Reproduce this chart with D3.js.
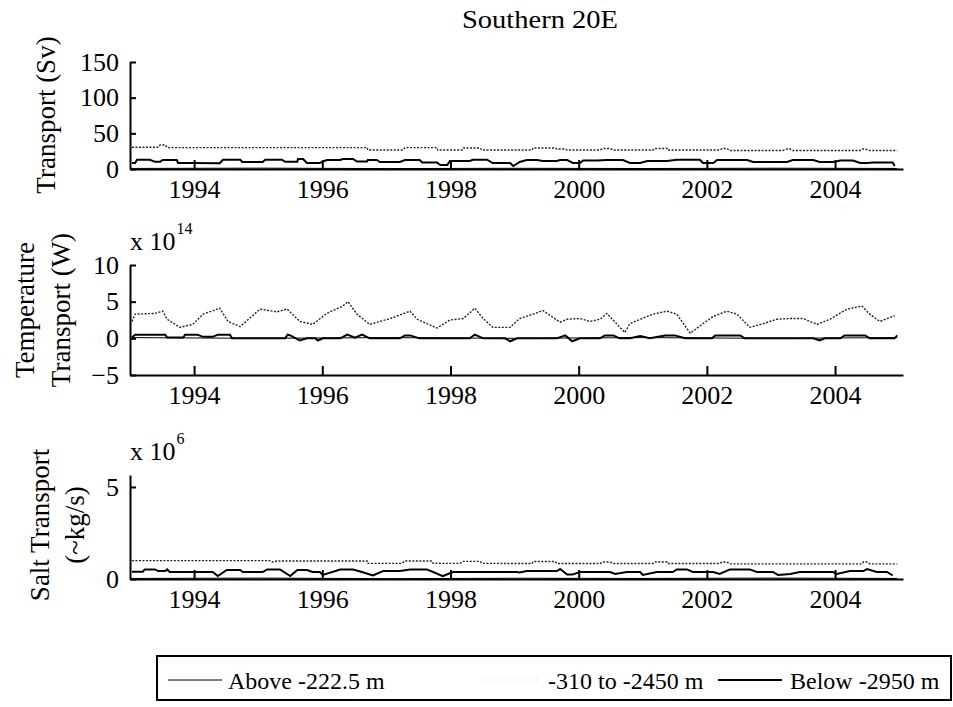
<!DOCTYPE html>
<html><head><meta charset="utf-8">
<script src="https://cdn.jsdelivr.net/npm/d3@7"></script>
<style>
body{margin:0;background:#fff;}
svg text{font-family:"Liberation Serif","Times New Roman",serif;fill:#000;}
</style></head><body>
<svg id="chart" width="953" height="707"></svg>
<script>
// ---------- data ----------
const title = "Southern 20E";
const xTicks = [1994, 1996, 1998, 2000, 2002, 2004];
const seriesNames = ["Above -222.5 m", "-310 to -2450 m", "Below -2950 m"];

// Panel 1: volume transport (Sv)
const volTicks = [0, 50, 100, 150];
const volAbove = [[1993.03,0.8],[1995.0,1.2],[1997.0,0.6],[1999.0,1.0],[2001.0,0.7],[2003.0,1.1],[2004.97,0.8]];
const volMid = [[1993.03,30.4],[1993.44,30.4],[1993.47,33.6],[1993.55,33.6],[1993.58,30],[1996.70,30],[1996.71,26.6],[1997.26,26.6],[1997.29,30],[1997.79,30],[1997.80,26.6],[1998.18,26.6],[1998.20,29.5],[1998.46,29.5],[1998.49,26.6],[1999.27,26.6],[1999.29,29.5],[1999.63,29.5],[1999.66,28],[1999.79,28],[1999.82,26.6],[2000.33,26.6],[2000.38,28.8],[2000.49,28.8],[2000.54,26.6],[2001.16,26.6],[2001.19,28.8],[2001.38,28.8],[2001.39,26.6],[2002.20,26.6],[2002.24,28.8],[2002.31,28.8],[2002.36,26],[2003.19,26],[2003.25,28],[2003.30,28],[2003.34,26],[2004.39,26],[2004.42,28],[2004.47,28],[2004.54,26],[2004.97,26]];
const volBelow = [[1993.03,8.4],[1993.08,8.4],[1993.11,13],[1993.31,13],[1993.39,10],[1993.47,10],[1993.51,12.6],[1993.73,12.6],[1993.75,8.4],[1993.98,8.4],[1994.40,8],[1994.45,13],[1994.72,13],[1994.75,9.8],[1995.07,9.8],[1995.11,13],[1995.37,13],[1995.42,10],[1995.61,10],[1995.62,14],[1995.70,14],[1995.76,8.4],[1995.96,8.4],[1996.07,12.6],[1996.28,12.6],[1996.32,14],[1996.48,14],[1996.54,10.5],[1996.70,10.5],[1996.71,12.6],[1996.85,12.6],[1996.90,9.8],[1997.21,9.8],[1997.29,12.6],[1997.52,12.6],[1997.56,9.1],[1997.79,9.1],[1997.84,5.6],[1997.95,5.6],[1997.99,11.2],[1998.30,11.2],[1998.35,13],[1998.57,13],[1998.66,8.4],[1998.93,8.4],[1998.98,4.2],[1999.08,9.8],[1999.19,12.6],[1999.35,12.6],[1999.44,11.2],[1999.66,11.2],[1999.71,12.6],[1999.82,12.6],[1999.91,8.4],[2000.02,8.4],[2000.07,12],[2000.29,12],[2000.44,12.6],[2000.69,12.6],[2000.80,8.4],[2000.96,8.4],[2001.07,11.2],[2001.38,11.2],[2001.53,13],[2001.89,13],[2001.94,8.4],[2002.10,8.4],[2002.16,12.6],[2002.63,12.6],[2002.72,9.8],[2003.25,9.8],[2003.34,12.6],[2003.66,12.6],[2003.76,9.8],[2003.97,9.8],[2004.08,12],[2004.28,12],[2004.39,8.4],[2004.50,8.4],[2004.59,9.1],[2004.90,9.1],[2004.93,4.2]];

// Panel 2: temperature transport (x 10^14 W)
const tempTicks = [-5, 0, 5, 10];
const tempAbove = [[1993.03,0.1],[1995.0,0.0],[1997.0,0.1],[1999.0,0.0],[2001.0,0.1],[2003.0,0.0],[2004.97,0.1]];
const tempMid = [[1993.03,2.3],[1993.08,3.3],[1993.39,3.4],[1993.51,3.7],[1993.58,2.6],[1993.78,1.5],[1993.98,1.9],[1994.14,3.3],[1994.40,4.1],[1994.53,2.3],[1994.72,1.6],[1995.03,4.0],[1995.29,3.6],[1995.45,4.0],[1995.65,2.3],[1995.85,1.9],[1996.07,3.4],[1996.32,4.4],[1996.40,5.0],[1996.54,3.3],[1996.74,1.9],[1997.06,2.7],[1997.37,3.7],[1997.48,2.6],[1997.79,1.4],[1997.99,2.5],[1998.20,2.7],[1998.38,4.1],[1998.51,2.7],[1998.66,1.5],[1998.93,1.5],[1999.08,2.7],[1999.29,3.3],[1999.44,3.8],[1999.71,2.2],[1999.82,2.6],[2000.02,2.7],[2000.18,2.3],[2000.33,2.6],[2000.44,3.4],[2000.72,0.8],[2000.80,2.0],[2000.96,2.6],[2001.16,3.3],[2001.38,3.7],[2001.53,3.3],[2001.74,0.7],[2001.94,2.0],[2002.10,3.0],[2002.31,3.7],[2002.47,3.3],[2002.67,1.5],[2002.88,2.0],[2003.09,2.6],[2003.30,2.7],[2003.50,2.7],[2003.72,1.9],[2003.92,2.6],[2004.19,4.0],[2004.42,4.4],[2004.54,3.3],[2004.70,2.3],[2004.93,3.1]];
const tempBelow = [[1993.03,0.1],[1993.08,0.5],[1993.55,0.5],[1993.58,0.1],[1993.83,0.1],[1993.86,0.5],[1994.05,0.5],[1994.14,0.2],[1994.29,0.2],[1994.37,0.5],[1994.56,0.5],[1994.59,0.0],[1995.42,0.0],[1995.46,0.5],[1995.50,0.4],[1995.65,-0.3],[1995.76,0.0],[1995.89,0.0],[1995.93,-0.3],[1996.01,0.0],[1996.28,0.0],[1996.39,0.5],[1996.51,0.1],[1996.62,0.5],[1996.74,0.0],[1997.21,0.0],[1997.29,0.4],[1997.37,0.4],[1997.52,0.0],[1998.30,0.0],[1998.38,0.5],[1998.51,0.0],[1998.85,0.0],[1998.93,-0.4],[1999.04,0.0],[1999.66,0.0],[1999.79,0.4],[1999.90,-0.4],[2000.02,0.0],[2000.33,0.0],[2000.41,0.4],[2000.54,0.4],[2000.64,0.0],[2000.80,0.0],[2000.96,0.3],[2001.11,0.0],[2001.35,0.4],[2001.50,0.4],[2001.66,0.0],[2002.08,0.0],[2002.13,0.4],[2002.52,0.4],[2002.59,0.0],[2003.66,0.0],[2003.76,-0.3],[2003.84,0.0],[2004.08,0.0],[2004.15,0.4],[2004.47,0.4],[2004.54,0.0],[2004.93,0.0],[2004.97,0.4]];

// Panel 3: salt transport (x 10^6 ~kg/s)
const saltTicks = [0, 5];
const saltAbove = [[1993.03,0.03],[1995.0,0.05],[1997.0,0.02],[1999.0,0.04],[2001.0,0.03],[2003.0,0.05],[2004.97,0.03]];
const saltMid = [[1993.03,1.0],[1995.18,1.0],[1995.23,0.92],[1995.29,0.98],[1996.70,0.98],[1996.71,0.85],[1997.24,0.85],[1997.29,0.98],[1997.71,0.98],[1997.73,0.85],[1998.15,0.85],[1998.20,0.96],[1998.46,0.96],[1998.49,0.85],[1999.27,0.84],[1999.29,0.95],[1999.63,0.95],[1999.66,0.84],[2000.33,0.84],[2000.38,0.92],[2000.49,0.92],[2000.54,0.84],[2001.16,0.84],[2001.19,0.92],[2001.38,0.92],[2001.39,0.84],[2002.20,0.84],[2002.24,0.92],[2002.31,0.92],[2002.36,0.82],[2004.42,0.82],[2004.44,0.92],[2004.50,0.92],[2004.54,0.82],[2004.97,0.82]];
const saltBelow = [[1993.03,0.4],[1993.20,0.4],[1993.23,0.52],[1993.39,0.52],[1993.44,0.43],[1993.55,0.43],[1993.58,0.52],[1993.62,0.38],[1994.29,0.38],[1994.37,0.16],[1994.51,0.49],[1994.72,0.49],[1994.76,0.38],[1995.07,0.38],[1995.14,0.52],[1995.34,0.52],[1995.50,0.16],[1995.61,0.49],[1995.76,0.49],[1995.85,0.38],[1995.96,0.38],[1996.01,0.22],[1996.28,0.52],[1996.48,0.52],[1996.62,0.38],[1996.79,0.19],[1996.95,0.43],[1997.21,0.43],[1997.37,0.52],[1997.63,0.52],[1997.73,0.38],[1997.88,0.16],[1998.04,0.38],[1999.04,0.38],[1999.08,0.35],[1999.19,0.43],[1999.66,0.43],[1999.71,0.54],[1999.82,0.24],[1999.90,0.24],[2000.02,0.38],[2000.49,0.38],[2000.57,0.27],[2000.75,0.38],[2000.96,0.38],[2001.00,0.22],[2001.22,0.38],[2001.47,0.38],[2001.53,0.52],[2001.69,0.52],[2001.78,0.38],[2002.10,0.38],[2002.20,0.27],[2002.36,0.52],[2002.67,0.52],[2002.78,0.38],[2003.03,0.38],[2003.11,0.22],[2003.30,0.27],[2003.45,0.38],[2003.97,0.38],[2004.03,0.27],[2004.23,0.43],[2004.44,0.43],[2004.50,0.54],[2004.65,0.38],[2004.81,0.38],[2004.90,0.19]];

// ---------- drawing ----------
const svg = d3.select("#chart");
const x = d3.scaleLinear().domain([1993, 2005.06]).range([130, 903]);

const styles = [
  {stroke:"#000", width:1, dash:null},          // Above
  {stroke:"#222", width:1.4, dash:"2,1.5"},     // Mid (dotted)
  {stroke:"#000", width:2, dash:null}           // Below
];

const panels = [
  {top:62, bottom:169, domain:[0,150], ticks:volTicks, data:[volAbove, volMid, volBelow],
   labels:[{t:"Transport (Sv)", x:46}], labelY:115},
  {top:265, bottom:375, domain:[-5,10], ticks:tempTicks, data:[tempAbove, tempMid, tempBelow],
   labels:[{t:"Temperature", x:25},{t:"Transport (W)", x:61}], labelY:310, exp:"14", expY:250},
  {top:475, bottom:579, domain:[0,5.65], ticks:saltTicks, data:[saltAbove, saltMid, saltBelow],
   labels:[{t:"Salt Transport", x:40},{t:"(~kg/s)", x:75}], labelY:525, exp:"6", expY:460}
];

svg.append("text").attr("x", 540).attr("y", 28).attr("text-anchor","middle")
  .attr("font-size", 26).attr("textLength", 156).attr("lengthAdjust","spacingAndGlyphs").text(title);

panels.forEach(p => {
  const y = d3.scaleLinear().domain(p.domain).range([p.bottom, p.top]);
  const line = d3.line().x(d => x(d[0])).y(d => y(d[1]));
  const g = svg.append("g");

  p.data.forEach((s, i) => {
    g.append("path").datum(s).attr("d", line).attr("fill","none")
      .attr("stroke", styles[i].stroke).attr("stroke-width", styles[i].width)
      .attr("stroke-dasharray", styles[i].dash);
  });

  const xa = g.append("g").attr("transform", `translate(0,${p.bottom})`)
    .call(d3.axisBottom(x).tickValues(xTicks).tickFormat(d3.format("d"))
      .tickSizeInner(-9).tickSizeOuter(0).tickPadding(11));
  const ya = g.append("g").attr("transform", `translate(130,0)`)
    .call(d3.axisLeft(y).tickValues(p.ticks).tickFormat(d3.format("d"))
      .tickSizeInner(-6).tickSizeOuter(0).tickPadding(11));
  [xa, ya].forEach(a => {
    a.attr("font-family", null).attr("font-size", null);
    a.select(".domain").attr("stroke","#000").attr("stroke-width", 2);
    a.selectAll(".tick line").attr("stroke","#000").attr("stroke-width", 2);
    a.selectAll(".tick text").attr("font-size", 26);
  });

  p.labels.forEach(l => {
    svg.append("text").attr("transform", `translate(${l.x},${p.labelY}) rotate(-90)`)
      .attr("text-anchor","middle").attr("dy","0.35em").attr("font-size", 27).text(l.t);
  });

  if (p.exp) {
    const e = svg.append("text").attr("x", 130).attr("y", p.expY).attr("font-size", 26);
    e.append("tspan").text("x 10");
    e.append("tspan").attr("font-size", 16).attr("dy", -16).attr("dx", 1).text(p.exp);
  }
});

// ---------- legend ----------
const lg = svg.append("g");
lg.append("rect").attr("x", 157).attr("y", 656).attr("width", 794).attr("height", 44)
  .attr("fill","#fff").attr("stroke","#000").attr("stroke-width", 2);
const legendItems = [
  {x1:168, x2:222, tx:228},
  {x1:480, x2:540, tx:548},
  {x1:718, x2:782, tx:790}
];
legendItems.forEach((it, i) => {
  lg.append("line").attr("x1", it.x1).attr("x2", it.x2).attr("y1", 680).attr("y2", 680)
    .attr("stroke", i === 1 ? "#ccc" : styles[i].stroke)
    .attr("stroke-width", i === 1 ? 1 : styles[i].width)
    .attr("stroke-dasharray", i === 1 ? "1,3" : null);
  lg.append("text").attr("x", it.tx).attr("y", 689).attr("font-size", 24).text(seriesNames[i]);
});
</script>
</body></html>
